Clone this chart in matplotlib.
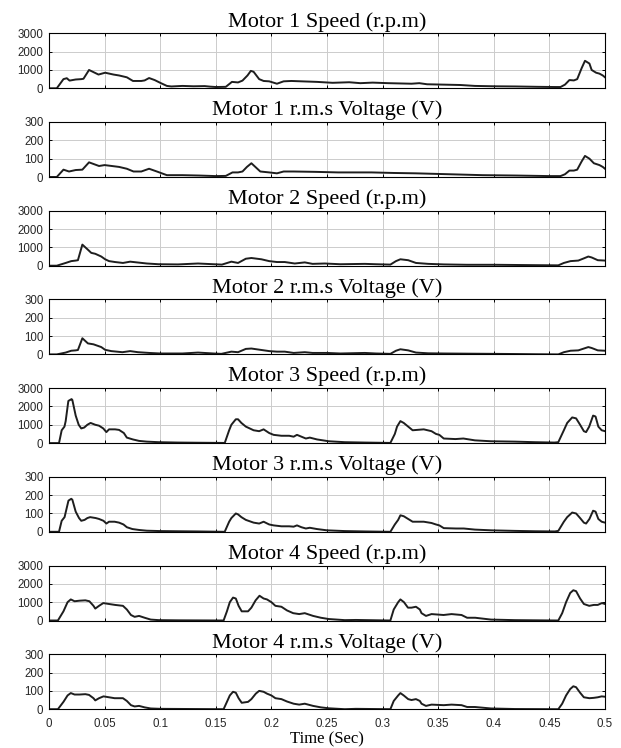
import matplotlib
matplotlib.use("Agg")
import matplotlib.pyplot as plt
import numpy as np

# ---------------- motor 1 ----------------
m1_speed_t = [0, 0.007, 0.013, 0.016, 0.0185, 0.024, 0.029, 0.031, 0.036, 0.0445, 0.0505,
              0.058, 0.063, 0.070, 0.0755, 0.083, 0.086, 0.090, 0.095, 0.100, 0.106, 0.110,
              0.120, 0.130, 0.140, 0.145, 0.150, 0.159, 0.1645, 0.170, 0.174, 0.1785, 0.1815,
              0.184, 0.189, 0.193, 0.198, 0.205, 0.211, 0.218, 0.227, 0.241, 0.255, 0.270,
              0.280, 0.291, 0.305, 0.326, 0.333, 0.340, 0.355, 0.370, 0.383, 0.400, 0.420,
              0.440, 0.455, 0.460, 0.464, 0.468, 0.472, 0.475, 0.479, 0.482, 0.486, 0.488,
              0.492, 0.495, 0.498, 0.500]
m1_speed = [0, 0, 500, 550, 420, 480, 500, 520, 1000, 750, 850,
            750, 700, 600, 400, 400, 430, 560, 450, 300, 130, 100,
            130, 110, 120, 90, 70, 80, 350, 320, 420, 700, 950,
            900, 500, 400, 380, 250, 380, 400, 380, 350, 300, 330,
            280, 310, 280, 250, 280, 220, 200, 180, 130, 110, 100,
            80, 70, 70, 200, 450, 430, 500, 1100, 1500, 1350, 1000,
            850, 800, 700, 600]

m1_volt_t = [0, 0.007, 0.013, 0.018, 0.024, 0.030, 0.036, 0.045, 0.050, 0.063, 0.070,
             0.076, 0.083, 0.090, 0.097, 0.106, 0.120, 0.135, 0.150, 0.159, 0.165, 0.170,
             0.174, 0.178, 0.182, 0.190, 0.198, 0.205, 0.211, 0.220, 0.240, 0.260, 0.290,
             0.310, 0.330, 0.360, 0.390, 0.420, 0.450, 0.460, 0.464, 0.468, 0.472, 0.475,
             0.479, 0.482, 0.486, 0.490, 0.495, 0.498, 0.500]
m1_volt = [0, 0, 40, 30, 38, 40, 80, 60, 65, 55, 45,
           30, 30, 45, 30, 10, 10, 8, 5, 6, 25, 25,
           30, 55, 75, 30, 25, 20, 30, 30, 28, 25, 25,
           22, 20, 15, 10, 8, 5, 5, 15, 35, 35, 40,
           85, 115, 100, 75, 65, 55, 45]

# ---------------- motor 2 ----------------
m2_speed_t = [0, 0.007, 0.015, 0.020, 0.024, 0.026, 0.030, 0.0345, 0.038, 0.0416, 0.047,
              0.0505, 0.054, 0.0594, 0.0665, 0.073, 0.079, 0.088, 0.0986, 0.116, 0.134,
              0.148, 0.1555, 0.164, 0.170, 0.177, 0.182, 0.191, 0.198, 0.205, 0.212, 0.221,
              0.230, 0.237, 0.248, 0.262, 0.284, 0.294, 0.307, 0.312, 0.316, 0.323, 0.330,
              0.341, 0.355, 0.376, 0.401, 0.419, 0.437, 0.458, 0.463, 0.469, 0.476, 0.481,
              0.485, 0.488, 0.4935, 0.500]
m2_speed = [0, 0, 150, 250, 280, 300, 1150, 900, 700, 650, 500,
            350, 250, 200, 150, 220, 180, 120, 80, 70, 120,
            80, 60, 220, 150, 380, 420, 350, 250, 200, 200, 120,
            180, 100, 120, 80, 100, 80, 60, 250, 350, 300, 150,
            100, 70, 50, 50, 40, 30, 20, 150, 250, 280, 400,
            500, 450, 300, 280]

m2_volt_t = [0, 0.007, 0.015, 0.020, 0.024, 0.026, 0.030, 0.035, 0.040, 0.047, 0.0505,
             0.056, 0.066, 0.073, 0.080, 0.090, 0.100, 0.120, 0.134, 0.148, 0.155, 0.164,
             0.170, 0.177, 0.182, 0.190, 0.198, 0.205, 0.212, 0.220, 0.230, 0.237, 0.250,
             0.262, 0.284, 0.294, 0.307, 0.312, 0.316, 0.323, 0.330, 0.341, 0.355, 0.376,
             0.400, 0.420, 0.437, 0.458, 0.463, 0.469, 0.476, 0.481, 0.485, 0.488, 0.4935,
             0.500]
m2_volt = [0, 0, 10, 20, 22, 24, 88, 60, 55, 40, 25,
           18, 12, 18, 12, 8, 5, 5, 10, 5, 3, 15,
           12, 30, 32, 25, 18, 15, 15, 8, 12, 8, 8,
           5, 8, 5, 3, 20, 28, 22, 10, 6, 5, 4,
           3, 2, 1, 0, 12, 20, 22, 32, 40, 35, 22,
           20]

# ---------------- motor 3 ----------------
m3_speed_t = [0, 0.009, 0.0114, 0.0139, 0.0150, 0.0174, 0.0203, 0.021, 0.024, 0.0267, 0.029,
              0.0317, 0.0345, 0.0374, 0.0416, 0.045, 0.0488, 0.0516, 0.054, 0.0594, 0.063,
              0.0673, 0.070, 0.0754, 0.081, 0.088, 0.0986, 0.116, 0.134, 0.157, 0.158,
              0.162, 0.164, 0.168, 0.170, 0.173, 0.177, 0.184, 0.189, 0.193, 0.198, 0.202,
              0.209, 0.216, 0.220, 0.223, 0.227, 0.231, 0.2345, 0.241, 0.2516, 0.266, 0.284,
              0.307, 0.311, 0.313, 0.316, 0.319, 0.323, 0.327, 0.337, 0.344, 0.348, 0.351,
              0.355, 0.3655, 0.3726, 0.383, 0.3975, 0.419, 0.437, 0.4545, 0.458, 0.463,
              0.466, 0.4705, 0.474, 0.4776, 0.481, 0.483, 0.4858, 0.4893, 0.4915, 0.494,
              0.497, 0.500]
m3_speed = [0, 0, 700, 900, 1200, 2300, 2400, 2350, 1500, 1000, 800,
            850, 1000, 1100, 1000, 950, 800, 600, 750, 750, 720,
            550, 300, 200, 120, 80, 50, 30, 20, 10, 0,
            700, 1000, 1300, 1300, 1100, 900, 700, 650, 750, 550, 450,
            400, 400, 350, 450, 350, 250, 300, 200, 100, 50, 30,
            10, 500, 900, 1200, 1100, 900, 700, 750, 650, 500, 450,
            250, 220, 250, 150, 100, 80, 50, 30, 50, 700,
            1100, 1400, 1350, 1000, 650, 600, 900, 1500, 1450, 900,
            700, 650]

m3_volt_t = [0, 0.009, 0.0114, 0.014, 0.0175, 0.020, 0.021, 0.024, 0.027, 0.029, 0.032,
             0.0345, 0.037, 0.042, 0.045, 0.049, 0.0516, 0.054, 0.059, 0.063, 0.067,
             0.070, 0.075, 0.081, 0.088, 0.100, 0.116, 0.134, 0.158, 0.162, 0.164, 0.168,
             0.170, 0.173, 0.177, 0.184, 0.189, 0.193, 0.198, 0.202, 0.209, 0.216, 0.220,
             0.223, 0.227, 0.231, 0.2345, 0.241, 0.250, 0.266, 0.284, 0.307, 0.311, 0.314,
             0.316, 0.319, 0.323, 0.327, 0.337, 0.344, 0.348, 0.351, 0.355, 0.366, 0.373,
             0.383, 0.398, 0.419, 0.437, 0.455, 0.458, 0.463, 0.466, 0.4705, 0.474, 0.4776,
             0.481, 0.483, 0.486, 0.4893, 0.4915, 0.494, 0.497, 0.500]
m3_volt = [0, 0, 60, 80, 170, 180, 175, 110, 75, 60, 65,
           75, 80, 75, 70, 60, 45, 55, 55, 50, 40,
           25, 15, 10, 6, 4, 3, 2, 0, 55, 75, 100,
           95, 80, 65, 50, 45, 55, 40, 35, 30, 30, 28,
           35, 25, 18, 22, 15, 8, 4, 2, 0, 40, 65,
           90, 85, 70, 55, 55, 48, 40, 35, 20, 18, 18,
           12, 8, 5, 3, 2, 5, 55, 80, 105, 100, 75,
           50, 45, 70, 115, 110, 70, 55, 50]

# ---------------- motor 4 ----------------
m4_speed_t = [0, 0.008, 0.013, 0.0167, 0.0196, 0.023, 0.0274, 0.0327, 0.0363, 0.040, 0.0416,
              0.045, 0.0488, 0.054, 0.0594, 0.0665, 0.070, 0.0737, 0.077, 0.081, 0.086,
              0.0915, 0.0986, 0.116, 0.157, 0.160, 0.1626, 0.1655, 0.168, 0.1705, 0.1733,
              0.179, 0.182, 0.1858, 0.1893, 0.193, 0.196, 0.200, 0.2036, 0.209, 0.214,
              0.2196, 0.225, 0.230, 0.2375, 0.2445, 0.2516, 0.266, 0.276, 0.307, 0.310,
              0.314, 0.316, 0.3192, 0.3228, 0.326, 0.330, 0.3335, 0.335, 0.339, 0.344,
              0.3548, 0.362, 0.371, 0.376, 0.3833, 0.3975, 0.419, 0.458, 0.4615, 0.465,
              0.4687, 0.4715, 0.474, 0.4776, 0.481, 0.4858, 0.490, 0.4935, 0.4972, 0.500]
m4_speed = [0, 0, 500, 1000, 1150, 1050, 1080, 1100, 1050, 800, 650,
            800, 950, 900, 850, 800, 600, 300, 200, 250, 150,
            50, 20, 10, 0, 500, 1000, 1250, 1200, 800, 500,
            500, 700, 1100, 1350, 1200, 1150, 1000, 800, 750, 550,
            400, 350, 400, 250, 150, 80, 20, 30, 0, 600,
            1000, 1150, 1000, 700, 700, 750, 600, 400, 250, 350,
            300, 350, 300, 150, 150, 50, 20, 0, 400, 1000,
            1500, 1650, 1600, 1200, 900, 800, 850, 850, 950, 900]

m4_volt_t = [0, 0.008, 0.013, 0.0167, 0.0196, 0.023, 0.0274, 0.0327, 0.036, 0.040, 0.0416,
             0.045, 0.049, 0.054, 0.059, 0.0665, 0.070, 0.0737, 0.077, 0.081, 0.086,
             0.0915, 0.100, 0.157, 0.160, 0.1626, 0.1655, 0.168, 0.1705, 0.1733, 0.179,
             0.182, 0.186, 0.189, 0.193, 0.196, 0.200, 0.2036, 0.209, 0.214, 0.220,
             0.225, 0.230, 0.2375, 0.2445, 0.2516, 0.266, 0.276, 0.307, 0.310, 0.314,
             0.316, 0.319, 0.323, 0.326, 0.330, 0.3335, 0.335, 0.339, 0.344, 0.355,
             0.362, 0.371, 0.376, 0.383, 0.3975, 0.419, 0.458, 0.4615, 0.465, 0.4687,
             0.4715, 0.474, 0.4776, 0.481, 0.486, 0.490, 0.4935, 0.497, 0.500]
m4_volt = [0, 0, 40, 75, 88, 80, 80, 82, 78, 60, 48,
           60, 70, 65, 60, 60, 45, 22, 15, 18, 10,
           4, 2, 0, 40, 75, 95, 90, 60, 35, 40,
           55, 85, 100, 95, 85, 75, 60, 55, 42, 30,
           25, 30, 18, 10, 5, 0, 2, 0, 45, 75,
           88, 75, 55, 50, 55, 45, 30, 18, 25, 22,
           25, 22, 12, 12, 4, 1, 0, 30, 75, 110,
           125, 120, 90, 65, 60, 62, 65, 70, 68]

titles = ["Motor 1 Speed (r.p.m)", "Motor 1 r.m.s Voltage (V)",
          "Motor 2 Speed (r.p.m)", "Motor 2 r.m.s Voltage (V)",
          "Motor 3 Speed (r.p.m)", "Motor 3 r.m.s Voltage (V)",
          "Motor 4 Speed (r.p.m)", "Motor 4 r.m.s Voltage (V)"]
series = [(m1_speed_t, m1_speed), (m1_volt_t, m1_volt),
          (m2_speed_t, m2_speed), (m2_volt_t, m2_volt),
          (m3_speed_t, m3_speed), (m3_volt_t, m3_volt),
          (m4_speed_t, m4_speed), (m4_volt_t, m4_volt)]

speed_ticks = [0, 1000, 2000, 3000]
volt_ticks = [0, 100, 200, 300]
time_ticks = np.arange(0, 0.5001, 0.05)
time_labels = ["0", "0.05", "0.1", "0.15", "0.2", "0.25", "0.3", "0.35", "0.4", "0.45", "0.5"]

W, H = 621, 748
fig = plt.figure(figsize=(W / 100, H / 100), dpi=100)

serif = ["Liberation Serif", "DejaVu Serif"]
sans = ["Liberation Sans", "DejaVu Sans"]

# eight stacked panels, pixel layout
left_px, right_px = 49, 605
ax_h_px = 55
for i, (title, (t, v)) in enumerate(zip(titles, series)):
    bottom_px = 88.3 + 88.7 * i
    ax = fig.add_axes([left_px / W, 1 - bottom_px / H,
                       (right_px - left_px) / W, ax_h_px / H])
    ax.plot(t, v, color="#1e1e1e", lw=1.4)
    ax.set_xlim(0, 0.5)
    ticks = speed_ticks if i % 2 == 0 else volt_ticks
    ax.set_ylim(ticks[0], ticks[-1])
    ax.set_yticks(ticks)
    ax.set_xticks(time_ticks)
    ax.grid(True, color="#cccccc", lw=0.7)
    ax.tick_params(direction="in", length=2.5, width=0.7, top=True, right=True,
                   labelsize=8.3, pad=4, colors="black")
    for lab in ax.get_yticklabels():
        lab.set_family(sans)
        lab.set_color("#262626")
    if i == len(titles) - 1:
        ax.set_xticklabels(time_labels, family=sans, color="#262626")
        ax.tick_params(axis="x", pad=6)
        ax.set_xlabel("Time (Sec)", family=serif, fontsize=12, labelpad=1)
    else:
        ax.set_xticklabels([])
    for s in ax.spines.values():
        s.set_linewidth(0.8)
    ax.set_title(title, family=serif, fontsize=16, pad=4.8)

fig.savefig("out.png", dpi=100)
